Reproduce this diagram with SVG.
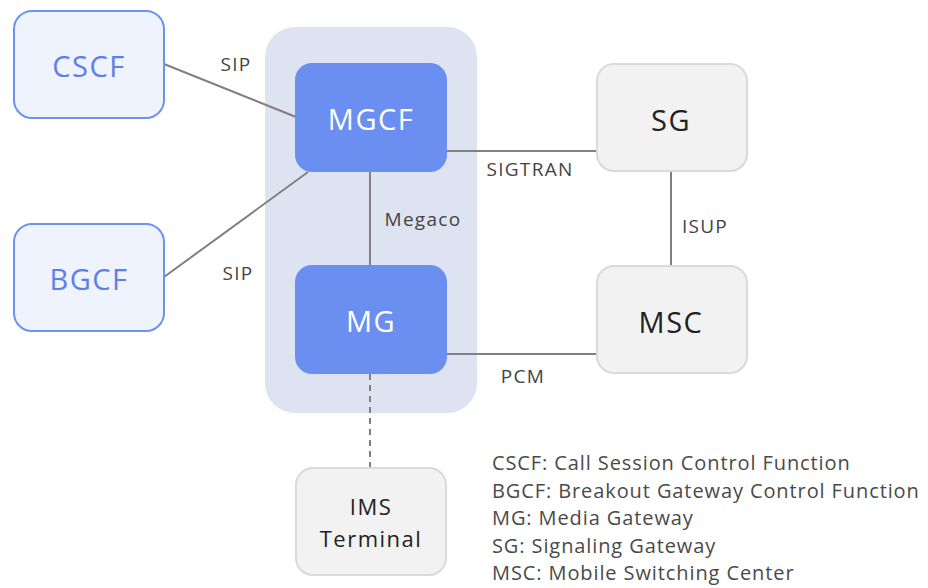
<svg xmlns="http://www.w3.org/2000/svg" width="928" height="588" viewBox="0 0 928 588">
<style>
.lt{fill:#eef3fd;stroke:#6f92f0;stroke-width:2}
.bl{fill:#6b8ff0}
.gr{fill:#f2f2f2;stroke:#dadada;stroke-width:2}
.t{font-family:"Open Sans","Noto Sans",sans-serif;text-anchor:middle;dominant-baseline:central;letter-spacing:1.5px}
.tb{font-size:29px;fill:#5d80e6}
.tw{font-size:29px;fill:#ffffff}
.td{font-size:29px;fill:#222222}
.ts{font-size:22px;fill:#222222;letter-spacing:1.5px}
.lb{font-family:"Open Sans","Noto Sans",sans-serif;font-size:19px;letter-spacing:1.3px;fill:#444444;text-anchor:middle;dominant-baseline:central}
.ln{stroke:#808080;stroke-width:2;fill:none}
.lg{font-family:"Open Sans","Noto Sans",sans-serif;font-size:20px;letter-spacing:0.9px;fill:#4a4a4a}
</style>
<rect x="0" y="0" width="928" height="588" fill="#ffffff"/>
<g id="container"><rect x="265" y="27" width="212" height="386" rx="30" fill="#dde3f1"/></g>
<g id="connectors">
<line class="ln" x1="164" y1="64" x2="296" y2="117"/>
<line class="ln" x1="164" y1="277" x2="308" y2="172"/>
<line class="ln" x1="446" y1="151" x2="597" y2="151"/>
<line class="ln" x1="370" y1="172" x2="370" y2="266"/>
<line class="ln" x1="671" y1="171" x2="671" y2="266"/>
<line class="ln" x1="446" y1="354" x2="597" y2="354"/>
<line class="ln" x1="370" y1="374" x2="370" y2="467" stroke-dasharray="6,5"/>
<text class="lb" x="236" y="64">SIP</text>
<text class="lb" x="238" y="273">SIP</text>
<text class="lb" x="530" y="169">SIGTRAN</text>
<text class="lb" x="423" y="219">Megaco</text>
<text class="lb" x="705" y="226">ISUP</text>
<text class="lb" x="523" y="376">PCM</text>
</g>
<g id="CSCF"><rect class="lt" x="14" y="11" width="150" height="107" rx="18"/><text class="t tb" x="89" y="65">CSCF</text></g>
<g id="BGCF"><rect class="lt" x="14" y="224" width="150" height="107" rx="18"/><text class="t tb" x="89" y="278">BGCF</text></g>
<g id="MGCF"><rect class="bl" x="295" y="63" width="152" height="109" rx="17"/><text class="t tw" x="371" y="118">MGCF</text></g>
<g id="MG"><rect class="bl" x="295" y="265" width="152" height="109" rx="17"/><text class="t tw" x="371" y="320">MG</text></g>
<g id="SG"><rect class="gr" x="597" y="64" width="150" height="107" rx="17"/><text class="t td" x="671" y="119">SG</text></g>
<g id="MSC"><rect class="gr" x="597" y="266" width="150" height="107" rx="17"/><text class="t td" x="671" y="321">MSC</text></g>
<g id="IMS"><rect class="gr" x="296" y="468" width="150" height="107" rx="17"/><text class="t ts" x="371" y="506">IMS</text><text class="t ts" x="371" y="538">Terminal</text></g>
<g id="legend">
<text class="lg" x="492" y="470">CSCF: Call Session Control Function</text>
<text class="lg" x="492" y="498">BGCF: Breakout Gateway Control Function</text>
<text class="lg" x="492" y="525">MG: Media Gateway</text>
<text class="lg" x="492" y="553">SG: Signaling Gateway</text>
<text class="lg" x="492" y="580">MSC: Mobile Switching Center</text>
</g>
</svg>
